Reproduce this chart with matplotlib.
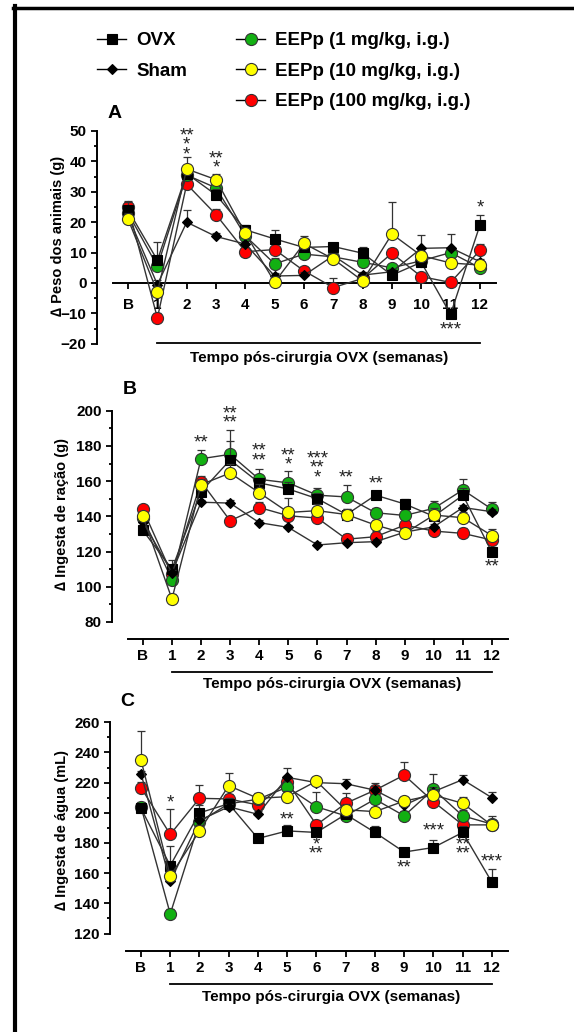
import numpy as np
import matplotlib
matplotlib.use("Agg")
import matplotlib.pyplot as plt
import matplotlib.transforms as mtransforms
from matplotlib.lines import Line2D
from matplotlib.ticker import MultipleLocator

plt.rcParams['font.family'] = ['Liberation Sans', 'DejaVu Sans']
plt.rcParams['font.weight'] = 'bold'

W, H = 574, 1032  # tamanho da figura em pixels

# semanas pós-cirurgia
semanas = ['B', '1', '2', '3', '4', '5', '6', '7', '8', '9', '10', '11', '12']

# A - peso dos animais (g)
peso_ovx = [24, 7.5, 36, 29, 17.5, 14.5, 11.7, 12, 9.8, 2.6, 6.8, -10.3, 19]
peso_ovx_sem = [2.5, 6, 2, 2, 1.5, 3, 1, 1, 2, 1, 1, 1.5, 3.5]
peso_sham = [22, -0.5, 20, 15.3, 12.8, 2.3, 2.5, 9, 2.6, 3.7, 11.4, 11.6, 7]
peso_sham_sem = [1, 1.5, 4, 1, 1, 1, 1, 1, 1, 1, 4.5, 4.5, 1]
peso_1 = [23, 5.5, 35.5, 31.3, 15.5, 6.3, 9.5, 8.6, 6.8, 5, 7.3, 10, 5]
peso_1_sem = [1, 1, 2, 1.5, 1, 2, 1.5, 1, 1, 1, 1, 1, 1]
peso_10 = [21, -3, 37.5, 34, 16.3, 0.3, 13, 7.9, 0.7, 16.1, 9, 6.6, 5.9]
peso_10_sem = [1, 2, 4, 2, 1, 1, 2.5, 1, 1, 10.5, 1.5, 1, 1]
peso_100 = [25, -11.5, 32.5, 22.5, 10.3, 11, 4, -1.5, 1.5, 9.8, 2.1, 0.2, 10.7]
peso_100_sem = [2, 1.5, 2, 2, 1, 1, 1, 3.3, 1, 1.5, 1, 1, 2]

# B - ingesta de ração (g)
racao_ovx = [132, 110, 154, 172, 159, 155.5, 150, 141, 152, 147, 140, 152, 119.5]
racao_ovx_sem = [2, 5, 3, 11, 3, 4, 3, 3, 2, 3, 2, 4, 3]
racao_sham = [137, 108, 148, 147.5, 136.4, 133.7, 123.7, 125, 125.6, 131, 134, 145, 142.6]
racao_sham_sem = [1.5] * 13
racao_1 = [139, 104, 172.7, 175.2, 161, 159, 152, 151, 142, 140.5, 144.5, 155, 144]
racao_1_sem = [2, 2, 5, 14, 6, 7, 4, 7, 3, 3, 4, 6, 4]
racao_10 = [140, 93, 158, 164.6, 153.4, 142.2, 143.2, 141, 135, 130.3, 140.7, 139.2, 129]
racao_10_sem = [2, 3, 3, 5, 5, 8, 4, 3, 3, 3, 4, 3, 4]
racao_100 = [144, 107, 159.7, 137.5, 145, 140.3, 139, 127, 128.4, 135, 131.6, 130.3, 126.5]
racao_100_sem = [2, 3, 3, 2, 3, 3, 3, 3, 3, 3, 3, 3, 3]

# C - ingesta de água (mL)
agua_ovx = [203, 165, 200, 206, 183, 188, 187, 199, 187, 174, 177, 187, 154]
agua_ovx_sem = [3, 13, 5, 4, 2, 4, 3, 3, 4, 3, 5, 4, 9]
agua_sham = [226, 154.5, 195, 204, 199, 223.5, 220, 219.3, 215, 205, 214, 222, 210]
agua_sham_sem = [2, 2, 2, 2, 2, 6, 2, 3, 3, 2, 3, 3, 3.6]
agua_1 = [204, 133, 194, 206, 209, 217, 204, 198, 209, 198, 215.6, 198, 192.5]
agua_1_sem = [3, 3, 4, 4, 4, 4, 10, 4, 3, 3, 10, 4, 3]
agua_10 = [235, 158, 188, 218, 209.6, 210.7, 221, 202, 200.8, 207.8, 211.8, 206.3, 191.7]
agua_10_sem = [19, 3, 4, 8.5, 3, 4, 3, 4, 3, 3, 4, 4.4, 6]
agua_100 = [216.7, 185.7, 209.6, 209.2, 205.2, 220.5, 192, 206.3, 215, 225, 207.4, 192, 192]
agua_100_sem = [4, 16.5, 9, 3, 3, 4, 3, 7, 5, 8.5, 6, 3, 3]

# asteriscos: (semana, valor central, texto)
sig_peso = [(2, 45.3, '**\n*\n*'), (3, 39.3, '**\n*'), (11, -15.6, '***'), (12, 24.7, '*')]
sig_racao = [(2, 181.4, '**'), (3, 195.7, '**\n**'), (4, 174.3, '**\n**'), (5, 171.8, '**\n*'),
             (6, 167.2, '***\n**\n*'), (7, 161.6, '**'), (8, 158.3, '**'), (12, 111.3, '**')]
sig_agua = [(1, 206.7, '*'), (5, 195.3, '**'), (6, 175.6, '*\n**'), (9, 163.5, '**'),
            (10, 188.2, '***'), (11, 175.6, '**\n**'), (12, 167.6, '***')]

estilos = {
    'OVX': dict(marker='s', ms=7.5, mfc='black', mec='black', zorder=5),
    'Sham': dict(marker='D', ms=5.5, mfc='black', mec='black', zorder=6),
    'EEPp (1 mg/kg, i.g.)': dict(marker='o', ms=8.7, mfc='#12b012', mec='#333333', zorder=4),
    'EEPp (10 mg/kg, i.g.)': dict(marker='o', ms=8.7, mfc='#ffff00', mec='#333333', zorder=7),
    'EEPp (100 mg/kg, i.g.)': dict(marker='o', ms=8.7, mfc='#ff0000', mec='#333333', zorder=3),
}

x = np.arange(len(semanas))


def px_fig(px, py):
    return px / W, 1 - py / H


def desenhar(ax, series, sig):
    for nome, vals, sem in series:
        st = estilos[nome]
        ax.errorbar(x, vals, yerr=[np.zeros(len(sem)), sem], fmt='none', ecolor='#333333',
                    elinewidth=0.9, capsize=3, capthick=0.9, zorder=st['zorder'] - 0.5, clip_on=False)
        ax.plot(x, vals, color='#333333', lw=1.0, marker=st['marker'], ms=st['ms'],
                mfc=st['mfc'], mec=st['mec'], mew=0.8, zorder=st['zorder'], clip_on=False)
    for s, v, t in sig:
        ax.text(s, v, t, ha='center', va='center', multialignment='center', linespacing=0.42,
                fontsize=13.5, fontweight='normal', color='#222222', zorder=10)


def eixos(ax, ylim, major, minor, zero):
    ax.set_xlim(-1.06, 12.55)
    ax.set_ylim(*ylim)
    ax.spines['top'].set_visible(False)
    ax.spines['right'].set_visible(False)
    ax.spines['left'].set_bounds(*ylim)
    ax.spines['bottom'].set_bounds(-0.5, 12.55)
    for sp in ('left', 'bottom'):
        ax.spines[sp].set_linewidth(1.4)
    if zero:
        ax.spines['bottom'].set_position(('data', 0))
    else:
        ax.spines['bottom'].set_position(('outward', 12.5))
    ax.set_xticks(x)
    ax.set_xticklabels(semanas)
    ax.yaxis.set_major_locator(MultipleLocator(major))
    ax.yaxis.set_minor_locator(MultipleLocator(minor))
    ax.tick_params(direction='out', length=4, width=1.3, labelsize=11)
    ax.tick_params(axis='y', which='minor', direction='out', length=2.5, width=1.3)
    ax.tick_params(axis='x', pad=6.5 if zero else 3)
    ax.patch.set_visible(False)


def rodape(ax, y_linha, y_texto):
    trans = mtransforms.blended_transform_factory(ax.transData, ax.figure.transFigure)
    ax.plot([1, 12], [1 - y_linha / H] * 2, transform=trans, color='black', lw=1.3, clip_on=False)
    ax.text(6.5, 1 - y_texto / H, 'Tempo pós-cirurgia OVX (semanas)', transform=trans,
            ha='center', va='center', fontsize=11, fontweight='bold')


fig = plt.figure(figsize=(W / 100, H / 100), dpi=100)

# posições dos painéis (px): esquerda, topo, largura, altura
ax_a = fig.add_axes([97 / W, 1 - 343.8 / H, 399 / W, 212.8 / H])
ax_b = fig.add_axes([112 / W, 1 - 621.9 / H, 396 / W, 211.2 / H])
ax_c = fig.add_axes([110 / W, 1 - 933.5 / H, 398 / W, 211.2 / H])

eixos(ax_a, (-20, 50), 10, 5, True)
eixos(ax_b, (80, 200), 20, 10, False)
eixos(ax_c, (120, 260), 20, 10, False)

desenhar(ax_a, [('OVX', peso_ovx, peso_ovx_sem), ('Sham', peso_sham, peso_sham_sem),
                ('EEPp (1 mg/kg, i.g.)', peso_1, peso_1_sem),
                ('EEPp (10 mg/kg, i.g.)', peso_10, peso_10_sem),
                ('EEPp (100 mg/kg, i.g.)', peso_100, peso_100_sem)], sig_peso)
desenhar(ax_b, [('OVX', racao_ovx, racao_ovx_sem), ('Sham', racao_sham, racao_sham_sem),
                ('EEPp (1 mg/kg, i.g.)', racao_1, racao_1_sem),
                ('EEPp (10 mg/kg, i.g.)', racao_10, racao_10_sem),
                ('EEPp (100 mg/kg, i.g.)', racao_100, racao_100_sem)], sig_racao)
desenhar(ax_c, [('OVX', agua_ovx, agua_ovx_sem), ('Sham', agua_sham, agua_sham_sem),
                ('EEPp (1 mg/kg, i.g.)', agua_1, agua_1_sem),
                ('EEPp (10 mg/kg, i.g.)', agua_10, agua_10_sem),
                ('EEPp (100 mg/kg, i.g.)', agua_100, agua_100_sem)], sig_agua)

rodape(ax_a, 343.3, 358)
rodape(ax_b, 671.7, 684)
rodape(ax_c, 984, 997)

# rótulos dos eixos y
for (px, py), txt in [((58, 236), '∆ Peso dos animais (g)'),
                      ((62, 514), '∆ Ingesta de ração (g)'),
                      ((62, 830), '∆ Ingesta de água (mL)')]:
    fig.text(*px_fig(px, py), txt, rotation=90, ha='center', va='center', fontsize=10.5,
             fontweight='bold')

# letras dos painéis
for (px, py), txt in [((115, 113), 'A'), ((130, 390), 'B'), ((127, 702), 'C')]:
    fig.text(*px_fig(px, py), txt, ha='center', va='center', fontsize=14, fontweight='bold')


# legenda
def handle(nome):
    st = estilos[nome]
    return Line2D([], [], color='black', lw=1.0, marker=st['marker'], ms=st['ms'],
                  mfc=st['mfc'], mec=st['mec'], mew=0.8)


nomes1 = ['OVX', 'Sham']
nomes2 = ['EEPp (1 mg/kg, i.g.)', 'EEPp (10 mg/kg, i.g.)', 'EEPp (100 mg/kg, i.g.)']
for nomes, px in [(nomes1, 97), (nomes2, 236)]:
    fig.legend(handles=[handle(n) for n in nomes], labels=nomes, loc='upper left',
               bbox_to_anchor=px_fig(px, 32), frameon=False, handlelength=1.55,
               handletextpad=0.55, labelspacing=0.72, borderpad=0, borderaxespad=0,
               prop={'size': 13.5, 'weight': 'bold'})

# moldura
fig.add_artist(Line2D([15 / W, 15 / W], [0, 1 - 6 / H], color='black', lw=3))
fig.add_artist(Line2D([13 / W, 1], [1 - 7.5 / H, 1 - 7.5 / H], color='black', lw=2.5))

fig.savefig('out.png', dpi=100)
